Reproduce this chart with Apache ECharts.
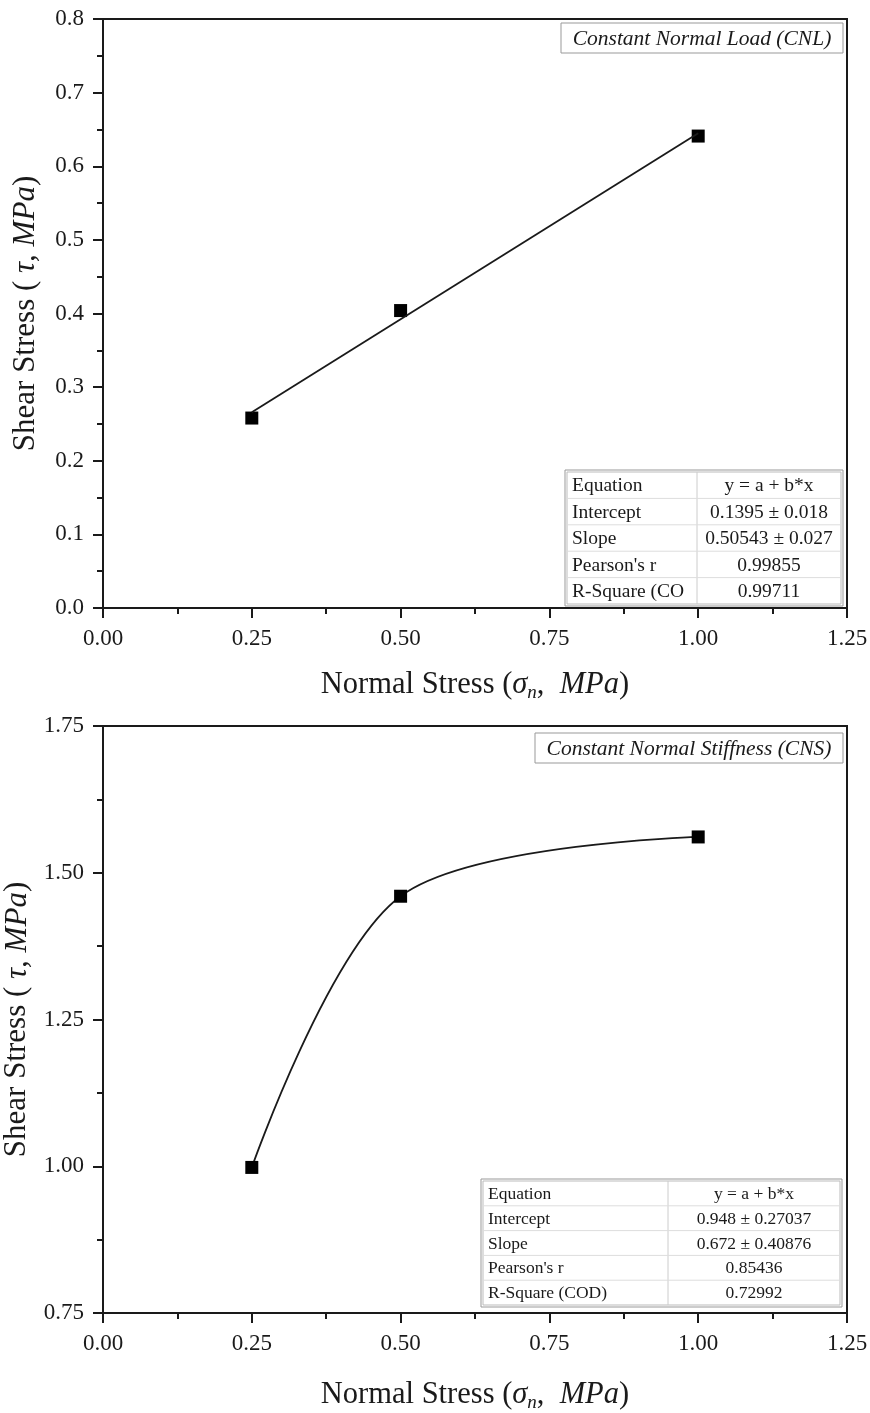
<!DOCTYPE html>
<html>
<head>
<meta charset="utf-8">
<script src="https://cdn.jsdelivr.net/npm/echarts@6/dist/echarts.min.js"></script>
<style>
  html, body { margin: 0; padding: 0; background: #fff; }
  #chart { width: 870px; height: 1413px; }
</style>
</head>
<body>
<div id="chart"></div>
<script>
// data
const cnlStress = [0.25, 0.5, 1.0];
const cnlShear = [0.258, 0.404, 0.641];
const cnlFit = { a: 0.1395, b: 0.50543 };
const cnlTable = [
  ['Equation', 'y = a + b*x'],
  ['Intercept', '0.1395 \u00b1 0.018'],
  ['Slope', '0.50543 \u00b1 0.027'],
  ["Pearson's r", '0.99855'],
  ['R-Square (CO', '0.99711'],
];
const cnsStress = [0.25, 0.5, 1.0];
const cnsShear = [0.998, 1.46, 1.561];
const cnsTable = [
  ['Equation', 'y = a + b*x'],
  ['Intercept', '0.948 \u00b1 0.27037'],
  ['Slope', '0.672 \u00b1 0.40876'],
  ["Pearson's r", '0.85436'],
  ['R-Square (COD)', '0.72992'],
];
const xTicks = { min: 0, max: 1.25, interval: 0.25 };

const SERIF = '"Liberation Serif", "DejaVu Serif", serif';
const INK = '#1a1a1a';
const X_TITLE = 30.5;
const Y_TITLE = 31;

const chart = echarts.init(document.getElementById('chart'));

function xAxisCfg(gridIndex, gap) {
  return {
    gridIndex,
    type: 'value',
    min: xTicks.min,
    max: xTicks.max,
    interval: xTicks.interval,
    name: '{n|Normal Stress (}{i|\u03c3}{sub|n}{n|,  }{i|MPa}{n|)}',
    nameLocation: 'middle',
    nameGap: gap,
    nameTextStyle: {
      fontFamily: SERIF,
      fontSize: X_TITLE,
      color: INK,
      rich: {
        n: { fontFamily: SERIF, fontSize: X_TITLE, color: INK },
        i: { fontFamily: SERIF, fontSize: X_TITLE, fontStyle: 'italic', color: INK },
        sub: { fontFamily: SERIF, fontSize: 19, fontStyle: 'italic', color: INK, padding: [16, 0, 0, 0] },
      },
    },
    axisLine: { show: true, onZero: false, lineStyle: { color: INK, width: 2 } },
    axisTick: { show: true, inside: false, length: 10, lineStyle: { color: INK, width: 2 } },
    minorTick: { show: true, splitNumber: 2, length: 6, lineStyle: { color: INK, width: 2 } },
    splitLine: { show: false },
    axisLabel: {
      fontFamily: SERIF,
      fontSize: 23,
      color: INK,
      margin: 19,
      formatter: (v) => v.toFixed(2),
    },
  };
}

function yAxisCfg(gridIndex, min, max, interval, digits, gap) {
  return {
    gridIndex,
    type: 'value',
    min,
    max,
    interval,
    name: '{n|Shear Stress (}{i| \u03c4, MPa}{n|)}',
    nameLocation: 'middle',
    nameGap: gap,
    nameRotate: 90,
    nameTextStyle: {
      fontFamily: SERIF,
      fontSize: Y_TITLE,
      color: INK,
      rich: {
        n: { fontFamily: SERIF, fontSize: Y_TITLE, color: INK },
        i: { fontFamily: SERIF, fontSize: Y_TITLE, fontStyle: 'italic', color: INK },
      },
    },
    axisLine: { show: true, onZero: false, lineStyle: { color: INK, width: 2 } },
    axisTick: { show: true, inside: false, length: 10, lineStyle: { color: INK, width: 2 } },
    minorTick: { show: true, splitNumber: 2, length: 6, lineStyle: { color: INK, width: 2 } },
    splitLine: { show: false },
    axisLabel: {
      fontFamily: SERIF,
      fontSize: 23,
      color: INK,
      margin: 19,
      formatter: (v) => v.toFixed(digits),
    },
  };
}

// build a stats table out of graphic elements
function tableGraphic(rows, left, top, width, height, split, fontSize) {
  const rowH = height / rows.length;
  const children = [
    { type: 'rect', shape: { x: left - 2, y: top - 2, width: width + 4, height: height + 4 },
      style: { fill: '#fff', stroke: '#999', lineWidth: 1 } },
    { type: 'rect', shape: { x: left, y: top, width, height },
      style: { fill: '#fff', stroke: '#bbb', lineWidth: 1 } },
    { type: 'line', shape: { x1: split, y1: top, x2: split, y2: top + height },
      style: { stroke: '#ccc', lineWidth: 1 } },
  ];
  rows.forEach((r, i) => {
    const cy = top + rowH * (i + 0.5);
    if (i > 0) {
      children.push({ type: 'line', shape: { x1: left, y1: top + rowH * i, x2: left + width, y2: top + rowH * i },
        style: { stroke: '#ddd', lineWidth: 1 } });
    }
    children.push({ type: 'text', x: left + 5, y: cy + 1,
      style: { text: r[0], font: `${fontSize}px ${SERIF}`, fill: INK, textAlign: 'left', textVerticalAlign: 'middle' } });
    children.push({ type: 'text', x: (split + left + width) / 2, y: cy + 1,
      style: { text: r[1], font: `${fontSize}px ${SERIF}`, fill: INK, textAlign: 'center', textVerticalAlign: 'middle' } });
  });
  return { type: 'group', z: 100, children };
}

function labelBox(text, left, top, width, height) {
  return {
    type: 'group', z: 100,
    children: [
      { type: 'rect', shape: { x: left, y: top, width, height },
        style: { fill: '#fff', stroke: '#999', lineWidth: 1 } },
      { type: 'text', x: left + width / 2, y: top + height / 2 + 1,
        style: { text, font: `italic 21.5px ${SERIF}`, fill: INK, textAlign: 'center', textVerticalAlign: 'middle' } },
    ],
  };
}

const fitX = [cnlStress[0], cnlStress[cnlStress.length - 1]];
const fitLine = fitX.map((x) => [x, cnlFit.a + cnlFit.b * x]);

const gridBase = {
  show: true, borderColor: INK, borderWidth: 2, backgroundColor: 'transparent',
  containLabel: false, outerBoundsMode: 'none',
};

const option = {
  backgroundColor: '#fff',
  animation: false,
  grid: [
    Object.assign({ left: 103, top: 19, width: 744, height: 589 }, gridBase),
    Object.assign({ left: 103, top: 726, width: 744, height: 587 }, gridBase),
  ],
  xAxis: [xAxisCfg(0, 59), xAxisCfg(1, 64)],
  yAxis: [yAxisCfg(0, 0, 0.8, 0.1, 1, 62), yAxisCfg(1, 0.75, 1.75, 0.25, 2, 66)],
  series: [
    {
      type: 'line', xAxisIndex: 0, yAxisIndex: 0,
      data: fitLine, showSymbol: false, symbol: 'none',
      lineStyle: { color: INK, width: 1.8 },
    },
    {
      type: 'scatter', xAxisIndex: 0, yAxisIndex: 0,
      data: cnlStress.map((x, i) => [x, cnlShear[i]]),
      symbol: 'rect', symbolSize: 13,
      itemStyle: { color: '#000', opacity: 1 },
    },
    {
      type: 'line', xAxisIndex: 1, yAxisIndex: 1,
      data: cnsStress.map((x, i) => [x, cnsShear[i]]),
      smooth: 0.32,
      symbol: 'rect', symbolSize: 13, showSymbol: true,
      itemStyle: { color: '#000', opacity: 1 },
      lineStyle: { color: INK, width: 1.8 },
    },
  ],
  graphic: [
    labelBox('Constant Normal Load (CNL)', 561, 23, 282, 30),
    labelBox('Constant Normal Stiffness (CNS)', 535, 733, 308, 30),
    tableGraphic(cnlTable, 567, 472, 274, 132, 697, 19.5),
    tableGraphic(cnsTable, 483, 1181, 357, 124, 668, 17.5),
  ],
};

chart.setOption(option);
</script>
</body>
</html>
